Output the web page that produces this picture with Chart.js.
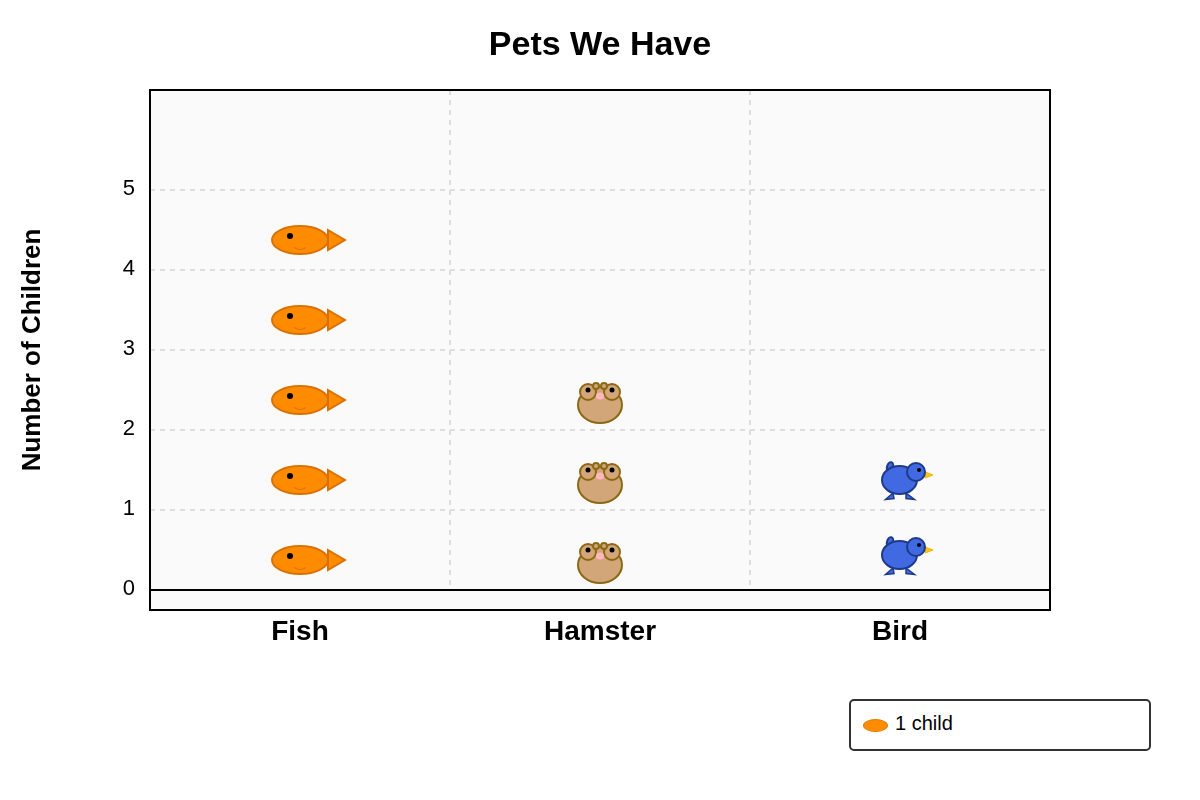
<!DOCTYPE html>
<html>
<head>
<meta charset="utf-8">
<title>Pets We Have</title>
<script src="https://cdn.jsdelivr.net/npm/chart.js@4/dist/chart.umd.min.js"></script>
<style>
  body { margin: 0; background: #fff; font-family: "Liberation Sans", Arial, sans-serif; }
  #wrap { position: relative; width: 1200px; height: 800px; }
  #legend {
    position: absolute; left: 849px; top: 699px; width: 298px; height: 48px;
    border: 2px solid #333; border-radius: 5px; background: #fff;
    font-size: 20px; color: #000;
  }
  #legend i {
    position: absolute; left: 11.5px; top: 17.5px; width: 23px; height: 11px;
    border: 1px solid #e07b00; border-radius: 50%; background: #ff8c00;
  }
  #legend span { position: absolute; left: 44px; top: 11px; }
</style>
</head>
<body>
<div id="wrap">
  <canvas id="grafico" width="1200" height="800"></canvas>
  <div id="legend"><i></i><span>1 child</span></div>
</div>
<script>
const categories = ['Fish', 'Hamster', 'Bird'];
const yTicks = [0, 1, 2, 3, 4, 5];

// where each icon sits on the y axis, one entry per child
const fishRows = [0.375, 1.375, 2.375, 3.375, 4.375];
const hamsterRows = [0.375, 1.375, 2.375];
const birdRows = [0.4375, 1.375];

function icon(w, h, draw) {
  const c = document.createElement('canvas');
  c.width = w;
  c.height = h;
  const g = c.getContext('2d');
  g.translate(w / 2, h / 2);
  draw(g);
  return c;
}

function ell(g, x, y, rx, ry, fill, stroke, rot) {
  g.beginPath();
  g.ellipse(x, y, rx, ry, rot || 0, 0, Math.PI * 2);
  g.fillStyle = fill;
  g.fill();
  if (stroke) {
    g.strokeStyle = stroke;
    g.lineWidth = 2;
    g.stroke();
  }
}

function tri(g, pts, fill, stroke, width) {
  g.beginPath();
  g.moveTo(pts[0], pts[1]);
  g.lineTo(pts[2], pts[3]);
  g.lineTo(pts[4], pts[5]);
  g.closePath();
  g.fillStyle = fill;
  g.fill();
  g.strokeStyle = stroke;
  g.lineWidth = width || 2;
  g.stroke();
}

const fishIcon = icon(110, 50, g => {
  const edge = '#d97200';
  tri(g, [28, -10, 45, 0, 28, 10], '#ff8c00', edge);
  ell(g, 0, 0, 28, 14, '#ff8c00', edge);
  ell(g, -10, -4, 3, 3, '#000');
  g.beginPath();
  g.moveTo(-6, 7.5);
  g.quadraticCurveTo(0, 11.5, 6, 7.5);
  g.strokeStyle = edge;
  g.lineWidth = 1;
  g.stroke();
});

const hamsterIcon = icon(70, 60, g => {
  const edge = '#8b6914';
  const fur = '#d2a679';
  ell(g, 0, 5, 22, 18, fur, edge);
  ell(g, -12, -8, 8, 8, fur, edge);
  ell(g, 12, -8, 8, 8, fur, edge);
  ell(g, -4, -14, 3, 3, fur, edge);
  ell(g, 4, -14, 3, 3, fur, edge);
  ell(g, -12, -10, 2.5, 2.5, '#000');
  ell(g, 12, -10, 2.5, 2.5, '#000');
  ell(g, 0, -4, 4, 3.5, '#ffb6c1');
});

const birdIcon = icon(80, 60, g => {
  const edge = '#1e3a8a';
  const blue = '#4169e1';
  tri(g, [-7, 13, -14.5, 19.5, -6, 18.5], blue, edge, 1.5);
  tri(g, [6, 13, 14.5, 19.5, 6, 18.5], blue, edge, 1.5);
  ell(g, -10, -13, 3, 5, blue, edge, 0.3);
  ell(g, -0.5, 0, 17.5, 14, blue, edge);
  tri(g, [25, -8, 33, -5, 25, -2], '#ffc61a', '#f0b400', 1);
  ell(g, 16, -8, 9, 9, blue, edge);
  ell(g, 19, -10, 2, 2, '#000');
});

const toPoints = (cat, rows) => rows.map(y => ({ x: cat, y: y }));

// plot background, column separators and frame
const frame = {
  id: 'frame',
  beforeDraw(chart) {
    const a = chart.chartArea, c = chart.ctx;
    c.save();
    c.fillStyle = '#fafafa';
    c.fillRect(a.left, a.top, a.width, a.height);
    c.restore();
  },
  beforeDatasetsDraw(chart) {
    const a = chart.chartArea, c = chart.ctx, sx = chart.scales.x, sy = chart.scales.y;
    c.save();
    c.strokeStyle = '#dddddd';
    c.lineWidth = 2;
    c.setLineDash([5, 5]);
    for (let i = 0; i < categories.length - 1; i++) {
      const px = (sx.getPixelForTick(i) + sx.getPixelForTick(i + 1)) / 2;
      c.beginPath();
      c.moveTo(px, a.top);
      c.lineTo(px, sy.getPixelForValue(0) - 2);
      c.stroke();
    }
    c.restore();
  },
  afterDraw(chart) {
    const a = chart.chartArea, c = chart.ctx;
    c.save();
    c.strokeStyle = '#000';
    c.lineWidth = 2;
    c.strokeRect(a.left, a.top, a.width, a.height);
    c.restore();
  }
};

new Chart(document.getElementById('grafico'), {
  type: 'line',
  data: {
    labels: categories,
    datasets: [
      { label: 'Fish', data: toPoints('Fish', fishRows), pointStyle: fishIcon },
      { label: 'Hamster', data: toPoints('Hamster', hamsterRows), pointStyle: hamsterIcon },
      { label: 'Bird', data: toPoints('Bird', birdRows), pointStyle: birdIcon }
    ]
  },
  plugins: [frame],
  options: {
    responsive: false,
    animation: false,
    showLine: false,
    layout: { padding: 0 },
    font: { family: '"Liberation Sans", Arial, sans-serif' },
    plugins: {
      legend: { display: false },
      tooltip: { enabled: false },
      title: {
        display: true,
        text: 'Pets We Have',
        color: '#000',
        font: { family: '"Liberation Sans"', size: 34, weight: 'bold', lineHeight: 1.2 },
        padding: { top: 25, bottom: 24.2 }
      }
    },
    scales: {
      x: {
        type: 'category',
        offset: true,
        grid: { display: false, drawTicks: false },
        border: { display: false },
        ticks: {
          color: '#000',
          padding: 5,
          maxRotation: 0,
          font: { family: '"Liberation Sans"', size: 28, weight: 'bold' }
        },
        afterFit(s) { s.height = 190; }
      },
      y: {
        min: -0.25,
        max: 6.25,
        afterBuildTicks(s) { s.ticks = yTicks.map(v => ({ value: v })); },
        grid: {
          drawTicks: false,
          lineWidth: 2,
          color: ctx => ctx.tick && ctx.tick.value === 0 ? '#000' : '#dddddd'
        },
        border: {
          display: false,
          dash: ctx => ctx.tick && ctx.tick.value === 0 ? [] : [5, 5]
        },
        ticks: {
          color: '#000',
          padding: 15,
          // empty second line lifts the number 1px, as in the reference
          callback: v => [String(v), ''],
          font: { family: '"Liberation Sans"', size: 22, lineHeight: '2px' }
        },
        title: {
          display: true,
          text: 'Number of Children',
          color: '#000',
          font: { family: '"Liberation Sans"', size: 26, weight: 'bold', lineHeight: 1.2 },
          padding: { top: 17, bottom: 0 }
        },
        afterFit(s) { s.width = 150; }
      },
      // empty axis, only keeps the plot 150px off the right edge
      spacer: {
        position: 'right',
        grid: { display: false },
        border: { display: false },
        ticks: { display: false },
        afterFit(s) { s.width = 150; }
      }
    }
  }
});
</script>
</body>
</html>
